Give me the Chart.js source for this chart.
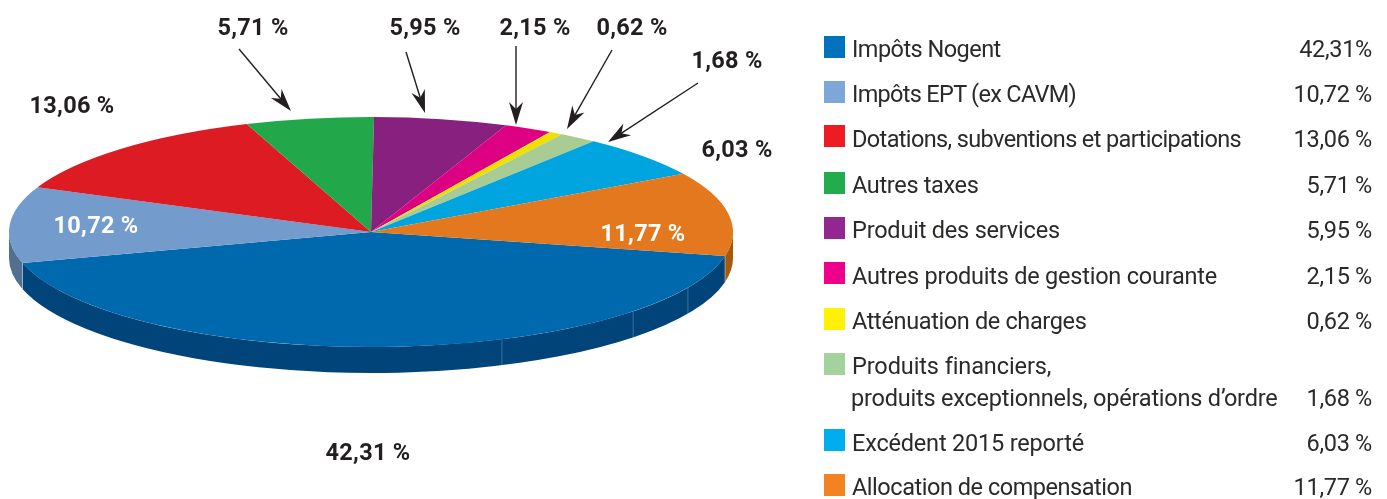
<!DOCTYPE html>
<html lang="fr">
<head>
<meta charset="utf-8">
<title>Recettes</title>
<script src="https://cdn.jsdelivr.net/npm/chart.js@4"></script>
<style>
  html, body { margin: 0; background: #fff; }
  #wrap { position: relative; width: 1387px; height: 499px; overflow: hidden; font-family: Roboto, sans-serif; }
  #chart { position: absolute; left: 0; top: 0; }
  .pct { position: absolute; transform: translate(-50%, -50%); font-weight: 700; font-size: 23.5px; line-height: 26px; color: #231f20; white-space: nowrap; letter-spacing: 0.3px; }
  .pct.light { color: #fff; }
  .swatch { position: absolute; width: 21px; height: 22px; }
  .name, .val { position: absolute; transform: translateY(-50%); font-size: 23.5px; line-height: 22px; color: #2b2a29; white-space: nowrap; }
  .val { right: 15px; letter-spacing: -0.3px; }
</style>
</head>
<body>
<div id="wrap"><canvas id="chart" width="1387" height="499"></canvas></div>
<script>
const categories = ['Impôts Nogent', 'Impôts EPT (ex CAVM)', 'Dotations, subventions et participations', 'Autres taxes',
  'Produit des services', 'Autres produits de gestion courante', 'Atténuation de charges',
  'Produits financiers,\nproduits exceptionnels, opérations d’ordre', 'Excédent 2015 reporté', 'Allocation de compensation'];
const values = [42.31, 10.72, 13.06, 5.71, 5.95, 2.15, 0.62, 1.68, 6.03, 11.77];
const valueText = ['42,31%', '10,72 %', '13,06 %', '5,71 %', '5,95 %', '2,15 %', '0,62 %', '1,68 %', '6,03 %', '11,77 %'];
const pieLabels = ['42,31 %', '10,72 %', '13,06 %', '5,71 %', '5,95 %', '2,15 %', '0,62 %', '1,68 %', '6,03 %', '11,77 %'];

const pieColors = ['#0068ad', '#739bcb', '#dc1b23', '#22a74a', '#87207f', '#dd0083', '#f0e000', '#a8cc94', '#00a4df', '#e4781e'];
const sideColors = ['#00447a', '#51708f', '#99141a', '#177434', '#5e1659', '#9a005b', '#a89d00', '#758e67', '#00729c', '#a55a0b'];
const swatchColors = ['#0072bc', '#7da7d9', '#ed1c24', '#22ac4b', '#92278f', '#ec008c', '#fff200', '#a3d39c', '#00aeef', '#f58220'];

// layout only
const pieLabelPos = [[368, 452], [96, 225], [72, 105], [253, 27], [425, 27], [535, 27], [632, 27], [727, 60], [737, 149], [643, 233]];
const lightLabels = [1, 9];
const arrows = [[239, 49, 291, 111], [406, 52, 425, 113], [516, 46, 516, 125], [612, 50, 567, 129], [698, 83, 608, 142]];
const rowY = [49, 94, 139, 185, 230, 276, 321, 366, 443, 487];
const swatchY = [36, 81, 125, 172, 217, 262, 308, 353, 429, 474];
const valueY = [49, 94, 139, 185, 230, 276, 321, 398, 443, 487];
const nameEnd = [1001, 1076, 1241, 979, 1060, 1217, 1086, 1050, 1084, 1132];
const nameEnd2 = 1277;
const seamAngles = [68.8, 43.6, 28.9];

const CX = 371, CY = 232, RX = 362, RY = 115, DEPTH = 26;
const K = RY / RX;

const wrap = document.getElementById('wrap');
pieLabels.forEach((t, i) => {
  const d = document.createElement('div');
  d.className = 'pct' + (lightLabels.includes(i) ? ' light' : '');
  d.textContent = t;
  d.style.left = pieLabelPos[i][0] + 'px';
  d.style.top = pieLabelPos[i][1] + 'px';
  wrap.appendChild(d);
});
categories.forEach((name, i) => {
  const s = document.createElement('div');
  s.className = 'swatch';
  s.style.left = '824px';
  s.style.top = swatchY[i] + 'px';
  s.style.background = swatchColors[i];
  wrap.appendChild(s);
  name.split('\n').forEach((line, j) => {
    const n = document.createElement('div');
    n.className = 'name';
    n.textContent = line;
    const left = j ? 851 : 852;
    n.style.left = left + 'px';
    n.style.top = (rowY[i] + j * 32) + 'px';
    wrap.appendChild(n);
    // spacing fitted so the line ends where it does in the original
    const target = (j ? nameEnd2 : nameEnd[i]) - left;
    n.style.letterSpacing = ((target - n.offsetWidth) / line.length) + 'px';
  });
  const v = document.createElement('div');
  v.className = 'val';
  v.textContent = valueText[i];
  v.style.top = valueY[i] + 'px';
  wrap.appendChild(v);
});

// squashes the flat pie into an ellipse and paints the rim below it
const tiltPlugin = {
  id: 'tilt',
  beforeDatasetDraw(chart) {
    const ctx = chart.ctx;
    const arcs = chart.getDatasetMeta(0).data;
    arcs.forEach((el, i) => {
      [0, Math.PI * 2].forEach(shift => {
        const a = Math.max(el.startAngle, shift);
        const b = Math.min(el.endAngle, shift + Math.PI);
        if (b <= a) return;
        ctx.beginPath();
        ctx.ellipse(el.x, el.y, RX, RY, 0, a, b);
        ctx.ellipse(el.x, el.y + DEPTH, RX, RY, 0, b, a, true);
        ctx.closePath();
        ctx.fillStyle = sideColors[i];
        ctx.fill();
        // pale edge between two faces
        ctx.strokeStyle = 'rgba(255,255,255,0.4)';
        ctx.lineWidth = 0.7;
        [a, b].forEach(t => {
          if (t === shift || t === shift + Math.PI) return;
          const x = el.x + RX * Math.cos(t), y = el.y + RY * Math.sin(t);
          ctx.beginPath();
          ctx.moveTo(x, y);
          ctx.lineTo(x, y + DEPTH);
          ctx.stroke();
        });
      });
    });
    ctx.strokeStyle = 'rgba(255,255,255,0.3)';
    ctx.lineWidth = 0.8;
    seamAngles.forEach(deg => {
      const t = deg * Math.PI / 180;
      const x = CX + RX * Math.cos(t), y = CY + RY * Math.sin(t);
      ctx.beginPath();
      ctx.moveTo(x, y);
      ctx.lineTo(x, y + DEPTH);
      ctx.stroke();
    });
    ctx.save();
    ctx.translate(CX, CY);
    ctx.scale(1, K);
    ctx.translate(-CX, -CY);
  },
  afterDatasetDraw(chart) {
    chart.ctx.restore();
  },
  afterDraw(chart) {
    const ctx = chart.ctx;
    ctx.save();
    ctx.strokeStyle = '#231f20';
    ctx.fillStyle = '#231f20';
    ctx.lineWidth = 1.4;
    arrows.forEach(([x0, y0, x1, y1]) => {
      const t = Math.atan2(y1 - y0, x1 - x0);
      ctx.beginPath();
      ctx.moveTo(x0, y0);
      ctx.lineTo(x1 - 12 * Math.cos(t), y1 - 12 * Math.sin(t));
      ctx.stroke();
      ctx.save();
      ctx.translate(x1, y1);
      ctx.rotate(t);
      ctx.beginPath();
      ctx.moveTo(0, 0);
      ctx.lineTo(-23, -7);
      ctx.lineTo(-16, 0);
      ctx.lineTo(-23, 7);
      ctx.closePath();
      ctx.fill();
      ctx.restore();
    });
    ctx.restore();
  }
};

new Chart(document.getElementById('chart'), {
  type: 'pie',
  data: {
    labels: categories,
    datasets: [{ data: values, backgroundColor: pieColors, borderWidth: 0, clip: false }]
  },
  options: {
    responsive: false,
    animation: false,
    events: [],
    rotation: 102,
    radius: RX,
    layout: { padding: { left: 0, top: 0, right: 1387 - 2 * CX, bottom: 499 - 2 * CY } },
    plugins: { legend: { display: false }, tooltip: { enabled: false } }
  },
  plugins: [tiltPlugin]
});
</script>
</body>
</html>
